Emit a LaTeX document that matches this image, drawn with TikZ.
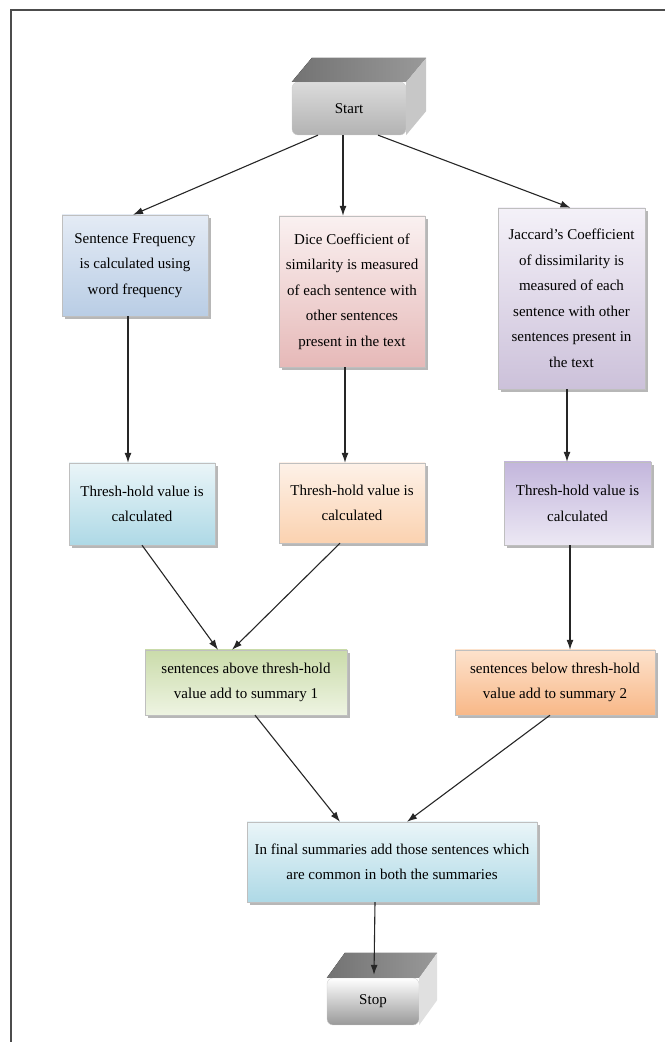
\documentclass[tikz,border=0pt]{standalone}
\usepackage{fontspec}
\setmainfont{Liberation Serif}
\usetikzlibrary{arrows.meta,shadows,calc}
\begin{document}
\begin{tikzpicture}[x=1pt,y=1pt,
  box/.style={draw=black!25, line width=0.4pt, align=center, inner sep=0pt,
    font=\fontsize{15}{25.5}\selectfont,
    drop shadow={shadow xshift=2.5pt, shadow yshift=-3pt, opacity=0.4, fill=black!70}},
  block/.style={draw=black!20, line width=0.3pt, rounded corners=6pt, align=center, inner sep=0pt,
    font=\fontsize{15}{25.5}\selectfont},
  arr/.style={draw=black!85, line width=1.1pt, -{Latex[length=10pt,width=7pt]}},
]
\useasboundingbox (0,0) rectangle (665,1042);
\definecolor{sfT}{HTML}{E4EBF5}\definecolor{sfB}{HTML}{B9CDE5}
\definecolor{dcT}{HTML}{FAF1F1}\definecolor{dcB}{HTML}{E6B9B8}
\definecolor{jcT}{HTML}{F4F1F8}\definecolor{jcB}{HTML}{CCC1DA}
\definecolor{cyT}{HTML}{EAF5F8}\definecolor{cyB}{HTML}{AED9E6}
\definecolor{orT}{HTML}{FDF1E8}\definecolor{orB}{HTML}{FBD2B0}
\definecolor{puT}{HTML}{C3B6DC}\definecolor{puB}{HTML}{ECE8F4}
\definecolor{grT}{HTML}{CADBAA}\definecolor{grB}{HTML}{EEF4E2}
\definecolor{o2T}{HTML}{FDE2CC}\definecolor{o2B}{HTML}{F8B888}

% frame
\draw[black!70, line width=1.5pt] (11,0) -- (11,1032) -- (665,1032);

% start block
\node[block, top color=black!14, bottom color=black!30, minimum width=114pt, minimum height=53pt] (start) at (349,933.5) {Start};
\fill[left color=black!55, right color=black!40] (start.north west) -- ([shift={(20,24)}]start.north west) -- ([shift={(20,24)}]start.north east) -- (start.north east) -- cycle;
\fill[black!22] (start.north east) -- ([shift={(20,24)}]start.north east) -- ([shift={(20,24)}]start.south east) -- (start.south east) -- cycle;

% first row
\node[box, top color=sfT, bottom color=sfB, minimum width=146pt, minimum height=101pt] (sf) at (135,776.5)
  {Sentence Frequency\\is calculated using\\word frequency};
\node[box, top color=dcT, bottom color=dcB, minimum width=146pt, minimum height=151pt] (dice) at (352,750.5)
  {Dice Coefficient of\\similarity is measured\\of each sentence with\\other sentences\\present in the text};
\node[box, top color=jcT, bottom color=jcB, minimum width=147pt, minimum height=181pt] (jac) at (571.5,743.5)
  {Jaccard's Coefficient\\of dissimilarity is\\measured of each\\sentence with other\\sentences present in\\the text};

% threshold row
\node[box, top color=cyT, bottom color=cyB, minimum width=146pt, minimum height=82pt] (t1) at (142,538)
  {Thresh-hold value is\\calculated};
\node[box, top color=orT, bottom color=orB, minimum width=146pt, minimum height=80pt] (t2) at (352,539)
  {Thresh-hold value is\\calculated};
\node[box, top color=puT, bottom color=puB, minimum width=147pt, minimum height=83pt] (t3) at (577.5,538.5)
  {Thresh-hold value is\\calculated};

% summaries
\node[box, top color=grT, bottom color=grB, minimum width=202pt, minimum height=65pt] (above) at (246,359.5)
  {sentences above thresh-hold\\value add to summary 1};
\node[box, top color=o2T, bottom color=o2B, minimum width=200pt, minimum height=65pt] (below) at (555,359.5)
  {sentences below thresh-hold\\value add to summary 2};
\node[box, top color=cyT, bottom color=cyB, minimum width=290pt, minimum height=80pt] (final) at (392,180)
  {In final summaries add those sentences which\\are common in both the summaries};

% stop block
\node[block, top color=white, bottom color=black!40, minimum width=92pt, minimum height=47pt] (stop) at (373,40.5) {Stop};
\fill[left color=black!55, right color=black!40] (stop.north west) -- ([shift={(18,25)}]stop.north west) -- ([shift={(18,25)}]stop.north east) -- (stop.north east) -- cycle;
\fill[black!12] (stop.north east) -- ([shift={(18,25)}]stop.north east) -- ([shift={(18,25)}]stop.south east) -- (stop.south east) -- cycle;

% connectors
\draw[arr] ([xshift=-31pt]start.south) -- ([xshift=-2pt]sf.north);
\draw[arr] ([xshift=-6pt]start.south) -- ([xshift=-9pt]dice.north);
\draw[arr] ([xshift=29pt]start.south) -- ([xshift=-1pt]jac.north);
\draw[arr] ([xshift=-7pt]sf.south) -- ([xshift=-14pt]t1.north);
\draw[arr] ([xshift=-7pt]dice.south) -- ([xshift=-7pt]t2.north);
\draw[arr] ([xshift=-4.5pt]jac.south) -- ([xshift=-10.5pt]t3.north);
\draw[arr] (t1.south) -- ([xshift=-28pt]above.north);
\draw[arr] ([xshift=-12pt]t2.south) -- ([xshift=-14pt]above.north);
\draw[arr] ([xshift=-7.5pt]t3.south) -- ([xshift=15pt]below.north);
\draw[arr] ([xshift=9pt]above.south) -- ([xshift=-52pt]final.north);
\draw[arr] ([xshift=-5pt]below.south) -- ([xshift=15pt]final.north);
\draw[arr] ([xshift=-17pt]final.south) -- ([xshift=1pt,yshift=3pt]stop.north);
\end{tikzpicture}
\end{document}
